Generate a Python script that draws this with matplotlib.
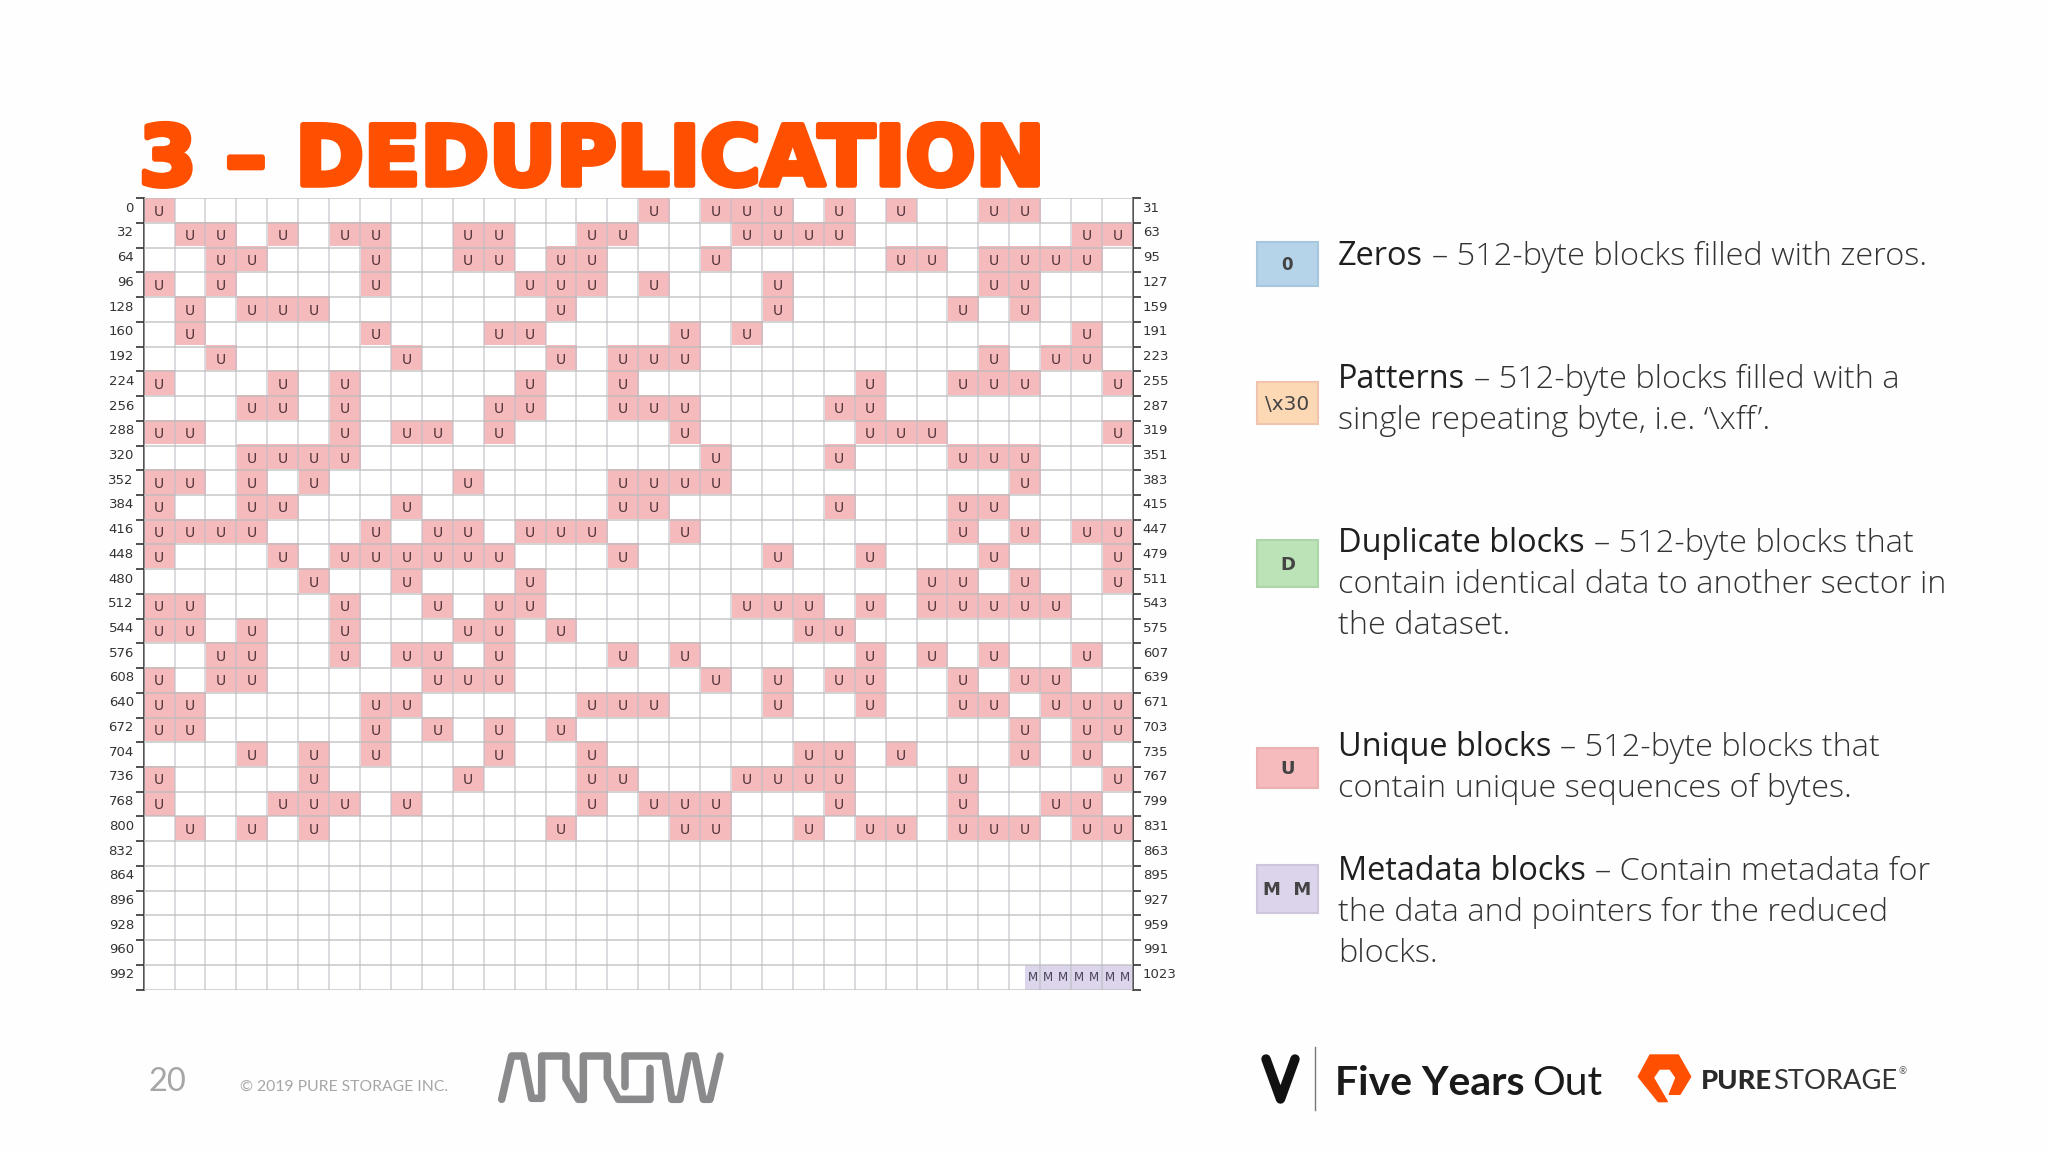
import matplotlib
matplotlib.use("Agg")
import matplotlib.pyplot as plt
import matplotlib.patheffects as pe
from matplotlib.colors import ListedColormap
from matplotlib.patches import Polygon, Rectangle
import numpy as np

TITLE = "3 – DEDUPLICATION"
N_ROWS = 32
N_COLS = 32

# columns holding a unique block, one list per row of the block map
unique_cols = [
    [0, 16, 18, 19, 20, 22, 24, 27, 28],
    [1, 2, 4, 6, 7, 10, 11, 14, 15, 19, 20, 21, 22, 30, 31],
    [2, 3, 7, 10, 11, 13, 14, 18, 24, 25, 27, 28, 29, 30],
    [0, 2, 7, 12, 13, 14, 16, 20, 27, 28],
    [1, 3, 4, 5, 13, 20, 26, 28],
    [1, 7, 11, 12, 17, 19, 30],
    [2, 8, 13, 15, 16, 17, 27, 29, 30],
    [0, 4, 6, 12, 15, 23, 26, 27, 28, 31],
    [3, 4, 6, 11, 12, 15, 16, 17, 22, 23],
    [0, 1, 6, 8, 9, 11, 17, 23, 24, 25, 31],
    [3, 4, 5, 6, 18, 22, 26, 27, 28],
    [0, 1, 3, 5, 10, 15, 16, 17, 18, 28],
    [0, 3, 4, 8, 15, 16, 22, 26, 27],
    [0, 1, 2, 3, 7, 9, 10, 12, 13, 14, 17, 26, 28, 30, 31],
    [0, 4, 6, 7, 8, 9, 10, 11, 15, 20, 23, 27, 31],
    [5, 8, 12, 25, 26, 28, 31],
    [0, 1, 6, 9, 11, 12, 19, 20, 21, 23, 25, 26, 27, 28, 29],
    [0, 1, 3, 6, 10, 11, 13, 21, 22],
    [2, 3, 6, 8, 9, 11, 15, 17, 23, 25, 27, 30],
    [0, 2, 3, 9, 10, 11, 18, 20, 22, 23, 26, 28, 29],
    [0, 1, 7, 8, 14, 15, 16, 20, 23, 26, 27, 29, 30, 31],
    [0, 1, 7, 9, 11, 13, 28, 30, 31],
    [3, 5, 7, 11, 14, 21, 22, 24, 28, 30],
    [0, 5, 10, 14, 15, 19, 20, 21, 22, 26, 31],
    [0, 4, 5, 6, 8, 14, 16, 17, 18, 22, 26, 29, 30],
    [1, 3, 5, 13, 17, 18, 21, 23, 24, 26, 27, 28, 30, 31],
]
metadata_row = 31
metadata_start = 28.5
metadata_count = 7

left_labels = [str(r * 32) for r in range(N_ROWS)]
right_labels = [str(r * 32 + 31) for r in range(N_ROWS)]

legend_heads = ["Zeros", "Patterns", "Duplicate blocks", "Unique blocks", "Metadata blocks"]
legend_first = [
    "– 512-byte blocks filled with zeros.",
    "– 512-byte blocks filled with a",
    "– 512-byte blocks that",
    "– 512-byte blocks that",
    "– Contain metadata for",
]
legend_more = [
    [],
    ["single repeating byte, i.e. ‘\\xff’."],
    ["contain identical data to another sector in", "the dataset."],
    ["contain unique sequences of bytes."],
    ["the data and pointers for the reduced", "blocks."],
]
legend_base = [265, 388, 552, 756, 880]
swatch_text = ["0", "\\x30", "D", "U", "M  M"]
swatch_size = [12, 14.5, 13, 13, 13]
swatch_fill = ["#b5d3e9", "#fdd8b4", "#bce2b8", "#f6bcbd", "#dcd4ea"]
swatch_edge = ["#a8c6dc", "#f0c4ae", "#aed4aa", "#ecb2b2", "#cdc6dc"]
swatch_box = [(242, 286), (382, 424), (540, 587), (748, 788), (865, 913)]

arrow_a = [(65, 178), (95, 48), (130, 48), (155, 175), (185, 175), (185, 48), (258, 48), (258, 115),
           (295, 178), (310, 178), (310, 48), (382, 48), (382, 115), (415, 178), (510, 178), (510, 85)]
arrow_b = [(435, 140), (435, 48), (555, 48), (575, 178), (600, 178), (625, 48), (645, 48), (670, 178),
           (690, 178), (720, 48)]
pure_mark = [(60, 30), (145, 30), (182, 95), (150, 148), (118, 148), (138, 98), (120, 72), (88, 72),
             (70, 98), (112, 170), (85, 170), (25, 95)]

W, H = 2048, 1152
fig = plt.figure(figsize=(W / 100, H / 100), dpi=100, facecolor="#fefefe")

# overlay in pixel coordinates for the slide furniture
bg = fig.add_axes([0, 0, 1, 1])
bg.set_xlim(0, W)
bg.set_ylim(H, 0)
bg.axis("off")

bg.text(139, 185, TITLE, fontsize=59.5, family="DejaVu Sans", weight="bold", color="#fe5000",
        ha="left", va="baseline",
        path_effects=[pe.withStroke(linewidth=4, foreground="#fe5000")])

# block map
x0, x1, y0, y1 = 143.6, 1133, 198.3, 989.5
ax = fig.add_axes([x0 / W, 1 - y1 / H, (x1 - x0) / W, (y1 - y0) / H])
cells = np.zeros((N_ROWS, N_COLS), dtype=int)
for r, cols in enumerate(unique_cols):
    cells[r, cols] = 1
ax.imshow(cells, cmap=ListedColormap(["#ffffff", "#f5babc"]), vmin=0, vmax=1, aspect="auto",
          extent=(0, N_COLS, N_ROWS, 0), interpolation="nearest")
ax.barh(metadata_row + 0.5, metadata_count / 2, left=metadata_start, height=1, color="#ddd5ec", zorder=1)
for r, cols in enumerate(unique_cols):
    for c in cols:
        ax.text(c + 0.5, r + 0.54, "U", fontsize=10, color="#4f3036", ha="center", va="center", zorder=4)
for i in range(metadata_count):
    ax.text(metadata_start + 0.25 + i / 2, metadata_row + 0.5, "M", fontsize=8.6, color="#4a4458",
            ha="center", va="center", zorder=4)

ax.set_xlim(0, N_COLS)
ax.set_ylim(N_ROWS, 0)
ax.set_xticks(range(N_COLS + 1))
ax.set_yticks(range(N_ROWS + 1))
ax.tick_params(axis="x", length=0, labelbottom=False)
ax.tick_params(axis="y", which="major", length=6, width=1.2, color="#333333", labelleft=False)
ax.xaxis.grid(True, color="#bdbdc4", lw=1.1, alpha=0.7, zorder=3)
ax.yaxis.grid(True, color="#bcbcbc", lw=1.3, alpha=0.7, zorder=3)
ax.set_axisbelow(False)
ax.set_yticks(np.arange(N_ROWS) + 0.34, left_labels, minor=True)
for name in ["top", "bottom"]:
    ax.spines[name].set_visible(False)
for name in ["left", "right"]:
    ax.spines[name].set_color("#333333")
    ax.spines[name].set_linewidth(1.2)

ax_r = ax.twinx()
ax_r.set_ylim(N_ROWS, 0)
ax_r.set_yticks(range(N_ROWS + 1))
ax_r.tick_params(axis="y", which="major", length=6, width=1.2, color="#333333", labelright=False)
ax_r.set_yticks(np.arange(N_ROWS) + 0.34, right_labels, minor=True)
ax_r.tick_params(axis="y", which="minor", length=0, pad=7, labelsize=9.5, labelcolor="#333333")
for s in ax_r.spines.values():
    s.set_visible(False)
# twinx resets the left labels, so switch them on after it
ax.tick_params(axis="y", which="minor", length=0, pad=7, labelsize=9.5, labelcolor="#333333", labelleft=True)

# legend on the right
renderer = fig.canvas.get_renderer()
text_x = 1338
line_gap = 41
body_font = "Open Sans"
body_size = 23.4
for i, head in enumerate(legend_heads):
    top, bottom = swatch_box[i]
    bg.add_patch(Rectangle((1257, top), 61, bottom - top, facecolor=swatch_fill[i],
                           edgecolor=swatch_edge[i], lw=1.5))
    bg.text(1287.5, (top + bottom) / 2 + 1, swatch_text[i], fontsize=swatch_size[i], family="DejaVu Sans",
            color="#444444", ha="center", va="center", weight="normal" if i == 1 else "bold")
    base = legend_base[i]
    t = bg.text(text_x, base, head, fontsize=body_size, family=body_font, weight="normal", color="#1f1f1f",
                va="baseline")
    w = t.get_window_extent(renderer).width
    bg.text(text_x + w + 9, base, legend_first[i], fontsize=body_size, family=body_font, weight="light",
            color="#333333", va="baseline")
    for j, line in enumerate(legend_more[i]):
        bg.text(text_x, base + (j + 1) * line_gap, line, fontsize=body_size, family=body_font, weight="light",
                color="#333333", va="baseline")

# footer
bg.text(149, 1091, "20", fontsize=23.5, family="Lato", weight="normal", color="#a6a6a6", va="baseline")
bg.text(240, 1091, "© 2019 PURE STORAGE INC.", fontsize=11.3, family="Lato", weight="normal",
        color="#a6a6a6", va="baseline")

for path in (arrow_a, arrow_b):
    bg.plot([480 + p[0] / 3 for p in path], [1040 + p[1] / 3 for p in path], color="#8a8a8c", lw=5.4,
            solid_capstyle="round", solid_joinstyle="round")

bg.plot([1266, 1280.5, 1295], [1059, 1099, 1059], color="#111111", lw=6.8, solid_capstyle="round",
        solid_joinstyle="round")
bg.plot([1315, 1315], [1047, 1110], color="#777777", lw=1)
t = bg.text(1335, 1095, "Five Years", fontsize=29.5, family="Lato", weight="bold", color="#1a1a1a", va="baseline")
w = t.get_window_extent(renderer).width
bg.text(1335 + w + 8, 1095, "Out", fontsize=29.5, family="Lato", weight="normal", color="#1a1a1a", va="baseline")

bg.add_patch(Polygon([(1630 + p[0] / 3, 1045 + p[1] / 3) for p in pure_mark], closed=True,
                     facecolor="#fe5000", edgecolor="#fe5000", lw=1, joinstyle="round"))
t = bg.text(1701, 1089, "PURE", fontsize=19.7, family="Lato", weight="black", color="#2a2a2a", va="baseline")
w = t.get_window_extent(renderer).width
t = bg.text(1701 + w + 1, 1089, "STORAGE", fontsize=19.7, family="Lato", weight="normal", color="#333333", va="baseline")
w2 = t.get_window_extent(renderer)
bg.text(w2.x1 + 1, 1074, "®", fontsize=7, family="Lato", color="#555555", va="baseline")

fig.savefig("out.png", dpi=100, facecolor=fig.get_facecolor())
plt.close(fig)
